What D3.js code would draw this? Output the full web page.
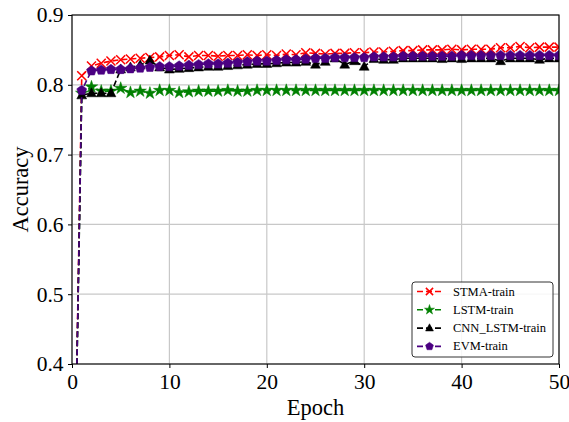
<!DOCTYPE html>
<html>
<head>
<meta charset="utf-8">
<script src="https://cdn.jsdelivr.net/npm/d3@7"></script>
<style>
  body { margin: 0; background: #fff; }
  text { font-family: "Liberation Serif", "Times New Roman", serif; }
</style>
</head>
<body>
<div id="chart"></div>
<script>
// epochs 0..50
const epochs = d3.range(0, 51);

const stma = [0.0, 0.813, 0.827, 0.831, 0.834, 0.836, 0.837, 0.838, 0.839, 0.840, 0.842,
  0.843, 0.840, 0.842, 0.842, 0.841, 0.842, 0.842, 0.843, 0.842, 0.843,
  0.842, 0.844, 0.843, 0.846, 0.845, 0.844, 0.845, 0.845, 0.846, 0.846,
  0.847, 0.847, 0.848, 0.849, 0.849, 0.850, 0.850, 0.850, 0.851, 0.850,
  0.851, 0.851, 0.851, 0.853, 0.853, 0.855, 0.853, 0.854, 0.854, 0.854];

const lstm = [0.0, 0.788, 0.797, 0.791, 0.791, 0.795, 0.789, 0.791, 0.788, 0.792, 0.792,
  0.789, 0.790, 0.791, 0.791, 0.791, 0.792, 0.791, 0.791, 0.792, 0.792,
  0.792, 0.792, 0.792, 0.792, 0.792, 0.792, 0.792, 0.792, 0.792, 0.792,
  0.792, 0.792, 0.792, 0.792, 0.792, 0.792, 0.792, 0.792, 0.792, 0.792,
  0.792, 0.792, 0.792, 0.792, 0.792, 0.792, 0.792, 0.792, 0.792, 0.792];

const cnnLstm = [0.0, 0.785, 0.788, 0.788, 0.788, 0.822, 0.825, 0.828, 0.835, 0.825, 0.822,
  0.823, 0.824, 0.825, 0.826, 0.826, 0.827, 0.828, 0.829, 0.830, 0.830,
  0.831, 0.832, 0.832, 0.833, 0.829, 0.833, 0.838, 0.829, 0.834, 0.826,
  0.837, 0.836, 0.836, 0.838, 0.838, 0.838, 0.838, 0.837, 0.838, 0.837,
  0.838, 0.838, 0.838, 0.834, 0.838, 0.838, 0.838, 0.836, 0.838, 0.838];

const evm = [0.0, 0.792, 0.820, 0.821, 0.822, 0.822, 0.823, 0.824, 0.825, 0.826, 0.826,
  0.827, 0.828, 0.829, 0.830, 0.830, 0.831, 0.832, 0.833, 0.834, 0.834,
  0.835, 0.836, 0.836, 0.837, 0.838, 0.838, 0.839, 0.839, 0.839, 0.839,
  0.840, 0.840, 0.840, 0.841, 0.841, 0.841, 0.841, 0.841, 0.841, 0.842,
  0.842, 0.842, 0.842, 0.842, 0.842, 0.842, 0.842, 0.842, 0.842, 0.842];

const seriesNames = ["STMA-train", "LSTM-train", "CNN_LSTM-train", "EVM-train"];
const seriesColors = ["#ff0000", "#008000", "#000000", "#4b0082"];
const seriesSymbols = ["x", "star", "triangle", "pentagon"];
const seriesValues = [stma, lstm, cnnLstm, evm];

const xTicks = [0, 10, 20, 30, 40, 50];
const yTicks = [0.4, 0.5, 0.6, 0.7, 0.8, 0.9];

const width = 569, height = 422;
const margin = {top: 15, right: 10, bottom: 58, left: 72};
const w = width - margin.left - margin.right;
const h = height - margin.top - margin.bottom;

const svg = d3.select("#chart").append("svg")
    .attr("width", width)
    .attr("height", height);

const g = svg.append("g")
    .attr("transform", "translate(" + margin.left + "," + margin.top + ")");

const x = d3.scaleLinear().domain([0, 50]).range([0, w]);
const y = d3.scaleLinear().domain([0.4, 0.9]).range([h, 0]);

svg.append("defs").append("clipPath").attr("id", "plotclip")
    .append("rect").attr("x", 0).attr("y", 0).attr("width", w).attr("height", h);

// grid
g.append("g").selectAll("line").data(xTicks).enter().append("line")
    .attr("x1", d => x(d)).attr("x2", d => x(d))
    .attr("y1", 0).attr("y2", h)
    .attr("stroke", "#c8c8c8").attr("stroke-width", 1.2);
g.append("g").selectAll("line").data(yTicks).enter().append("line")
    .attr("x1", 0).attr("x2", w)
    .attr("y1", d => y(d)).attr("y2", d => y(d))
    .attr("stroke", "#c8c8c8").attr("stroke-width", 1.2);

// markers
function markerPath(type, s) {
    if (type === "x") {
        return "M" + (-s) + "," + (-s) + "L" + s + "," + s + "M" + (-s) + "," + s + "L" + s + "," + (-s);
    }
    if (type === "star") return d3.symbol(d3.symbolStar, 2.4 * s * s)();
    if (type === "triangle") {
        return "M0," + (-s * 1.2) + "L" + (s * 1.1) + "," + (s * 0.8) + "L" + (-s * 1.1) + "," + (s * 0.8) + "Z";
    }
    // pentagon
    const pts = d3.range(5).map(i => {
        const a = -Math.PI / 2 + i * 2 * Math.PI / 5;
        return [Math.cos(a) * s * 1.15, Math.sin(a) * s * 1.15];
    });
    return "M" + pts.map(p => p.join(",")).join("L") + "Z";
}

const plot = g.append("g").attr("clip-path", "url(#plotclip)");

const line = d3.line().x((d, i) => x(epochs[i])).y(d => y(d));

seriesValues.forEach((vals, k) => {
    const col = seriesColors[k];
    const sg = plot.append("g");
    sg.append("path")
        .datum(vals)
        .attr("d", line)
        .attr("fill", "none")
        .attr("stroke", col)
        .attr("stroke-width", 1.6)
        .attr("stroke-dasharray", "6,3");
    sg.selectAll(".m").data(vals).enter().append("path")
        .attr("class", "m")
        .attr("transform", (d, i) => "translate(" + x(epochs[i]) + "," + y(d) + ")")
        .attr("d", markerPath(seriesSymbols[k], 4.5))
        .attr("fill", seriesSymbols[k] === "x" ? "none" : col)
        .attr("stroke", col)
        .attr("stroke-width", seriesSymbols[k] === "x" ? 1.5 : 0.5);
});

// frame
g.append("rect").attr("x", 0).attr("y", 0).attr("width", w).attr("height", h)
    .attr("fill", "none").attr("stroke", "#000").attr("stroke-width", 1.1);

// axes
const xAxis = g.append("g")
    .attr("transform", "translate(0," + h + ")")
    .call(d3.axisBottom(x).tickValues(xTicks).tickSize(4).tickPadding(6).tickFormat(d3.format("d")));
const yAxis = g.append("g")
    .call(d3.axisLeft(y).tickValues(yTicks).tickSize(4).tickPadding(4.5).tickFormat(d3.format(".1f")));
[xAxis, yAxis].forEach(a => {
    a.attr("font-family", "'Liberation Serif', serif");
    a.select(".domain").remove();
    a.selectAll("text").attr("font-size", 21.5).attr("fill", "#000");
    a.selectAll("line").attr("stroke", "#000");
});

svg.append("text")
    .attr("x", margin.left + w / 2).attr("y", 415)
    .attr("text-anchor", "middle").attr("font-size", 22.5)
    .text("Epoch");
svg.append("text")
    .attr("transform", "translate(28," + (margin.top + h / 2) + ") rotate(-90)")
    .attr("text-anchor", "middle").attr("font-size", 22.5)
    .text("Accuracy");

// legend
const lg = svg.append("g").attr("transform", "translate(412,282)");
lg.append("rect").attr("width", 141).attr("height", 75).attr("rx", 3)
    .attr("fill", "#fff").attr("fill-opacity", 0.85)
    .attr("stroke", "#333").attr("stroke-width", 1);
seriesNames.forEach((name, k) => {
    const ry = 9.5 + k * 18.3;
    const col = seriesColors[k];
    lg.append("line").attr("x1", 5).attr("x2", 30).attr("y1", ry).attr("y2", ry)
        .attr("stroke", col).attr("stroke-width", 1.6).attr("stroke-dasharray", "6,3");
    lg.append("path")
        .attr("transform", "translate(17.5," + ry + ")")
        .attr("d", markerPath(seriesSymbols[k], 3.6))
        .attr("fill", seriesSymbols[k] === "x" ? "none" : col)
        .attr("stroke", col)
        .attr("stroke-width", seriesSymbols[k] === "x" ? 1.5 : 0.5);
    lg.append("text").attr("x", 41).attr("y", ry + 4).attr("font-size", 12.5)
        .text(name);
});
</script>
</body>
</html>
